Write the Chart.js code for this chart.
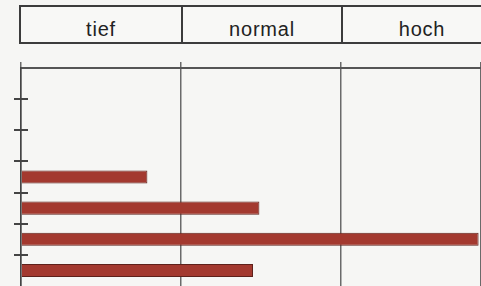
<!DOCTYPE html>
<html><head><meta charset="utf-8">
<script src="https://cdn.jsdelivr.net/npm/chart.js@4.4.1/dist/chart.umd.min.js"></script>
<style>
html,body{margin:0;padding:0;background:#f6f6f4;overflow:hidden;width:481px;height:286px;}
#wrap{position:relative;width:481px;height:286px;}
#hdr{position:absolute;left:19px;top:5px;height:35px;width:480px;border:2px solid #3c3c3c;display:flex;box-sizing:content-box;background:#f8f8f6;}
#hdr div{width:160px;height:35px;box-sizing:border-box;padding-top:6px;text-align:center;font-family:"Liberation Sans",Arial,sans-serif;font-size:20px;letter-spacing:0.8px;color:#222;line-height:33px;}
#hdr div+div{border-left:2px solid #3c3c3c;}
canvas{position:absolute;left:0;top:0;}
</style></head>
<body><div id="wrap">
<div id="hdr"></div>
<canvas id="c" width="481" height="286"></canvas>
</div>
<script>
const headerLabels = ['tief', 'normal', 'hoch'];
const categories = ['1', '2', '3', '4', '5', '6', '7'];
const values = [null, null, null, 0.79, 1.49, 2.86, 1.45];
const xMin = 0, xMax = 2.875;

const hdr = document.getElementById('hdr');
headerLabels.forEach(t => { const d = document.createElement('div'); d.textContent = t; hdr.appendChild(d); });

const crossTicks = {
  id: 'crossTicks',
  afterDraw(chart) {
    const y = chart.scales.y, ctx = chart.ctx, left = chart.scales.x.left;
    ctx.save();
    ctx.strokeStyle = '#444';
    ctx.lineWidth = 2;
    for (let i = 1; i < categories.length; i++) {
      const py = Math.round(y.getPixelForValue(i - 0.5));
      ctx.beginPath(); ctx.moveTo(left - 7, py); ctx.lineTo(left + 7, py); ctx.stroke();
    }
    ctx.restore();
  }
};

new Chart(document.getElementById('c'), {
  type: 'bar',
  data: { labels: categories, datasets: [{
    data: values,
    backgroundColor: '#a3392f',
    borderColor: '#5e211b',
    borderWidth: 1,
    barPercentage: 0.42,
    categoryPercentage: 1
  }]},
  options: {
    indexAxis: 'y',
    responsive: false,
    animation: false,
    layout: { padding: { left: 21, top: 62, right: 0, bottom: -2 } },
    plugins: { legend: { display: false }, tooltip: { enabled: false } },
    scales: {
      x: {
        position: 'top', min: xMin, max: xMax,
        ticks: { display: false, stepSize: 1 },
        grid: { color: '#6a6a6a', lineWidth: 1.5, tickLength: 6, drawTicks: true },
        border: { color: '#555', width: 2 }
      },
      y: {
        ticks: { display: false },
        grid: { display: false, drawTicks: false },
        border: { color: '#444', width: 1.5 }
      }
    }
  },
  plugins: [crossTicks]
});
</script>
</body></html>
